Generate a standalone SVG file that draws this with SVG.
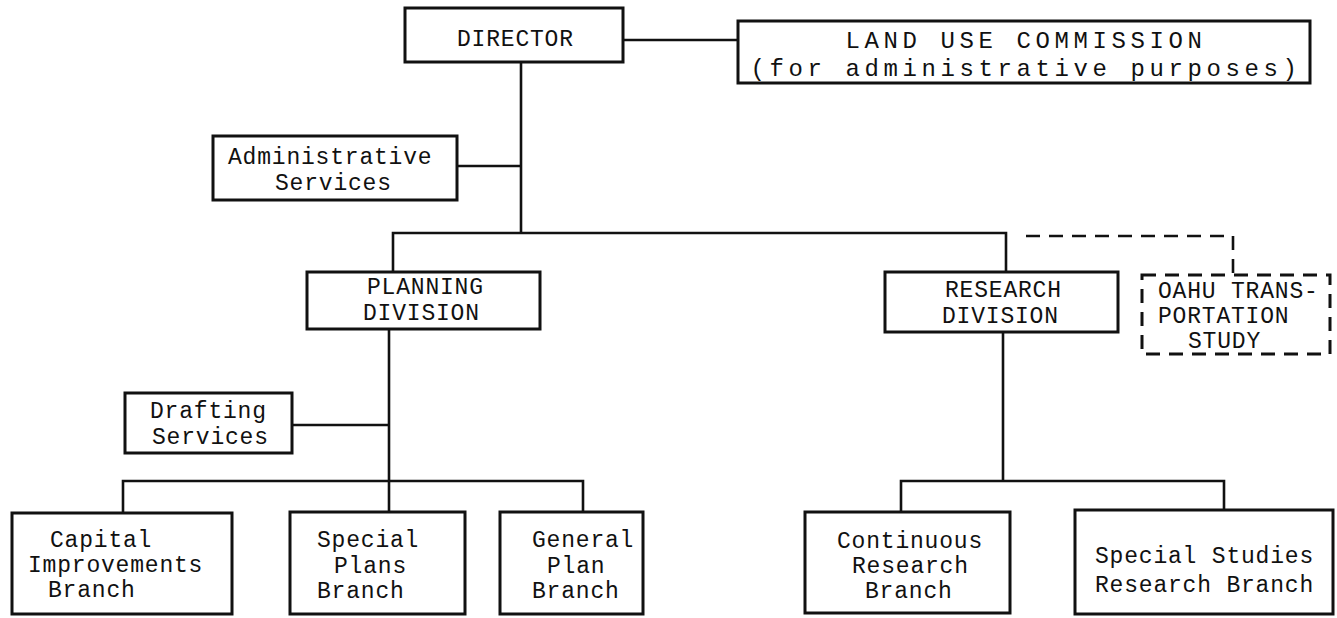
<svg xmlns="http://www.w3.org/2000/svg" width="1337" height="618" viewBox="0 0 1337 618">
<style>
.box{fill:#fff;stroke:#111;stroke-width:3}
.dbox{fill:#fff;stroke:#111;stroke-width:3;stroke-dasharray:14,9}
.ln{fill:none;stroke:#111;stroke-width:2.6}
.dln{fill:none;stroke:#111;stroke-width:2.6;stroke-dasharray:14,9}
text{font-family:"Liberation Mono","Courier New",monospace;font-size:23px;letter-spacing:0.8px;fill:#111}
.c{text-anchor:middle}
.wide{font-size:24px;letter-spacing:4.6px}
</style>
<rect width="1337" height="618" fill="#fff"/>
<g id="connectors">
<path class="ln" d="M623,40 H738"/>
<path class="ln" d="M521,62 V233"/>
<path class="ln" d="M457,166 H521"/>
<path class="ln" d="M393,272 V233 H1006 V272"/>
<path class="dln" d="M1026,236 H1233 V275"/>
<path class="ln" d="M389,329 V512"/>
<path class="ln" d="M292,425 H389"/>
<path class="ln" d="M123,513 V481 H583 V512"/>
<path class="ln" d="M1003,332 V481"/>
<path class="ln" d="M901,512 V481 H1224 V510"/>
</g>
<g id="director">
<rect class="box" x="405" y="8" width="218" height="54"/>
<text x="457" y="46">DIRECTOR</text>
</g>
<g id="land-use">
<rect class="box" x="738" y="21" width="572" height="62"/>
<text class="c wide" x="1026" y="48">LAND USE COMMISSION</text>
<text class="c wide" x="1026" y="76">(for administrative purposes)</text>
</g>
<g id="admin">
<rect class="box" x="213" y="136" width="244" height="64"/>
<text x="228" y="164">Administrative</text>
<text x="275" y="190">Services</text>
</g>
<g id="planning">
<rect class="box" x="307" y="272" width="233" height="57"/>
<text x="367" y="294">PLANNING</text>
<text x="363" y="320">DIVISION</text>
</g>
<g id="research">
<rect class="box" x="885" y="272" width="233" height="60"/>
<text x="945" y="297">RESEARCH</text>
<text x="942" y="323">DIVISION</text>
</g>
<g id="oahu">
<rect class="dbox" x="1142" y="275" width="188" height="79"/>
<text x="1158" y="298">OAHU TRANS-</text>
<text x="1158" y="323">PORTATION</text>
<text x="1188" y="348">STUDY</text>
</g>
<g id="drafting">
<rect class="box" x="125" y="393" width="167" height="60"/>
<text x="150" y="418">Drafting</text>
<text x="152" y="444">Services</text>
</g>
<g id="capital">
<rect class="box" x="12" y="513" width="220" height="101"/>
<text x="50" y="547">Capital</text>
<text x="28" y="572">Improvements</text>
<text x="48" y="597">Branch</text>
</g>
<g id="special-plans">
<rect class="box" x="290" y="512" width="175" height="102"/>
<text x="317" y="547">Special</text>
<text x="334" y="573">Plans</text>
<text x="317" y="598">Branch</text>
</g>
<g id="general-plan">
<rect class="box" x="500" y="512" width="143" height="102"/>
<text x="532" y="547">General</text>
<text x="547" y="573">Plan</text>
<text x="532" y="598">Branch</text>
</g>
<g id="continuous">
<rect class="box" x="805" y="512" width="205" height="101"/>
<text x="837" y="548">Continuous</text>
<text x="852" y="573">Research</text>
<text x="865" y="598">Branch</text>
</g>
<g id="special-studies">
<rect class="box" x="1075" y="510" width="258" height="104"/>
<text x="1095" y="563">Special Studies</text>
<text x="1095" y="592">Research Branch</text>
</g>
</svg>
